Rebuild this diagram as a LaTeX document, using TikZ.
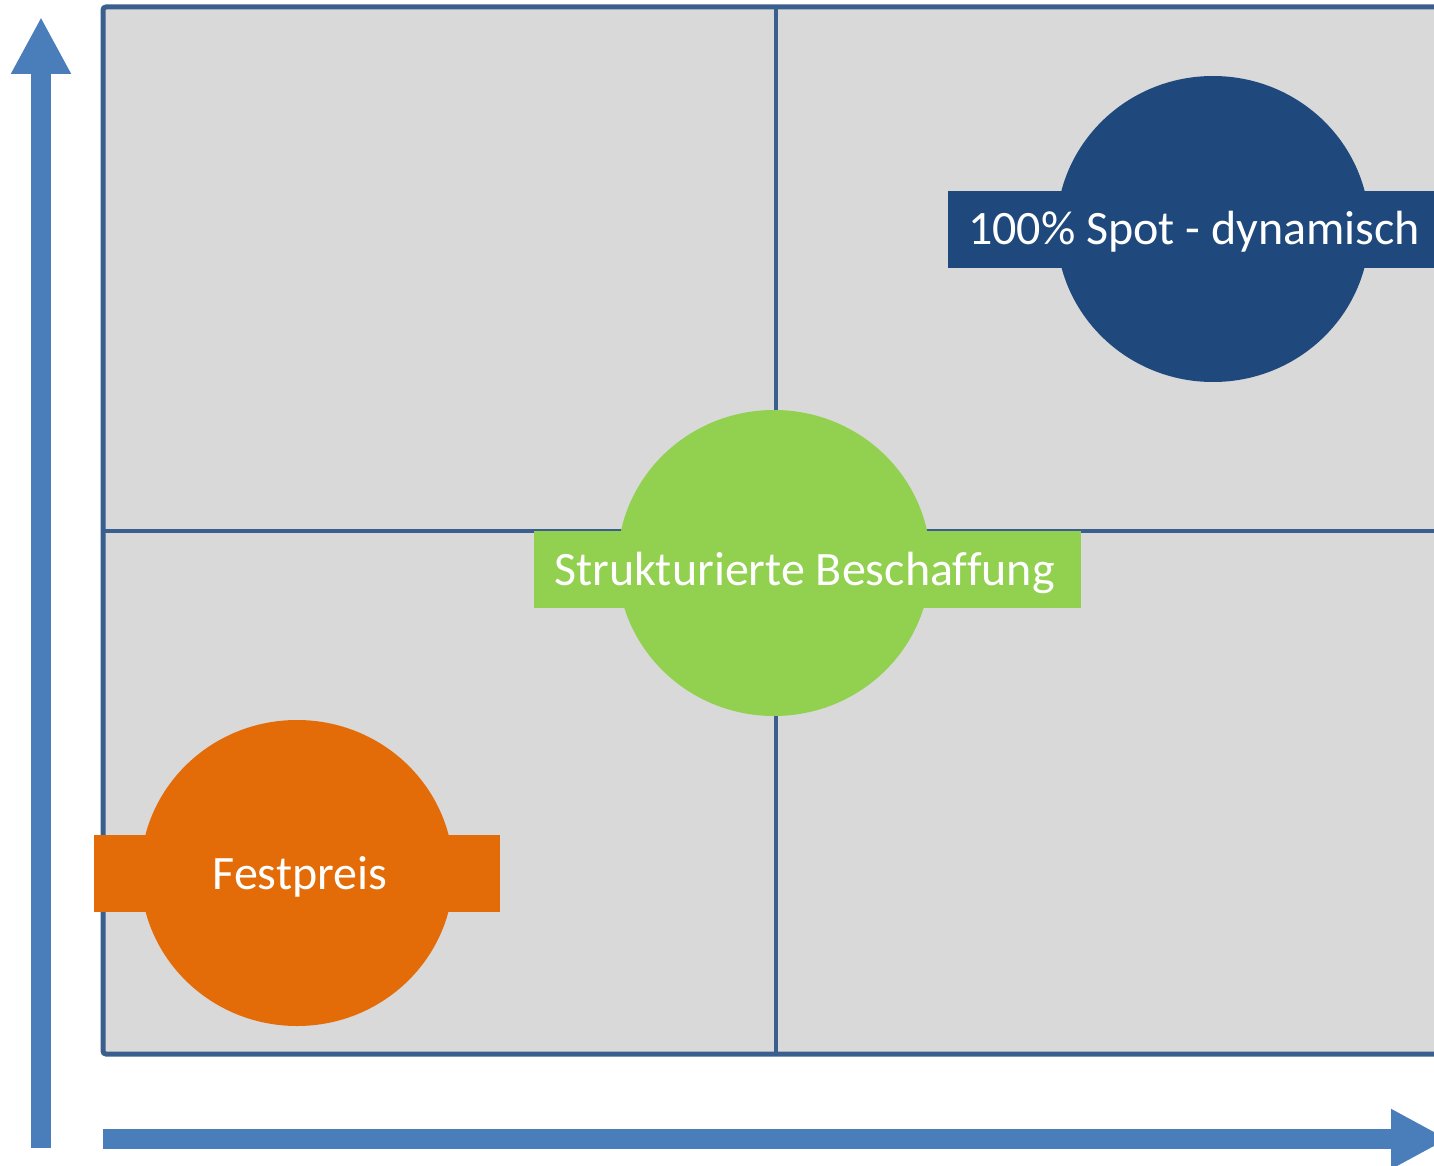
\documentclass[tikz,border=0pt]{standalone}
\usepackage{fontspec}
\setmainfont{Carlito}[Ligatures=NoCommon]
\usetikzlibrary{arrows.meta,shapes.geometric}
\definecolor{axis-blue}{HTML}{4A7EBB}
\definecolor{grid-blue}{HTML}{3A5F8E}
\definecolor{grid-fill}{HTML}{D9D9D9}
\definecolor{spot-navy}{HTML}{1F497D}
\definecolor{struct-green}{HTML}{92D050}
\definecolor{fix-orange}{HTML}{E36C09}
\tikzset{
    axis-arrow/.style = {draw=axis-blue, line width=20pt, -{Triangle[length=57pt, width=56pt]}},
    quadrant-box/.style = {draw=grid-blue, fill=grid-fill, line width=5pt, rounded corners=3pt},
    quadrant-line/.style = {draw=grid-blue, line width=4pt},
    bubble/.style = {ellipse, minimum width=313pt, minimum height=306pt, inner sep=0pt},
    bubble-label/.style = {rectangle, inner xsep=0pt, inner ysep=23pt, text height=31pt, text depth=0pt, text=white, font=\fontsize{48}{58}\selectfont},
}

\begin{document}
\begin{tikzpicture}[x=1pt, y=-1pt]
\useasboundingbox (0,0) rectangle (1434,1166);
\clip (0,0) rectangle (1434,1166);

% quadrants
\draw[quadrant-box] (103,7) rectangle (1460,1054);
\coordinate (v-top) at (776,7);
\coordinate (v-bottom) at (776,1054);
\coordinate (h-left) at (103,531);
\coordinate (h-right) at (1460,531);
\draw[quadrant-line] (v-top) -- (v-bottom);
\draw[quadrant-line] (h-left) -- (h-right);

% axes
\coordinate (y-start) at (41,1148);
\coordinate (y-end) at (41,17);
\coordinate (x-start) at (103,1139);
\coordinate (x-end) at (1448,1139);
\draw[axis-arrow] (y-start) -- (y-end);
\draw[axis-arrow] (x-start) -- (x-end);

% strategies
\node[bubble, fill=spot-navy] (spot) at (1213,229) {};
\node[bubble-label, fill=spot-navy, minimum width=492pt] (spot-label) at (1194,229.5) {100\% Spot - dynamisch};

\node[bubble, fill=struct-green] (struct) at (774,563) {};
\node[bubble-label, fill=struct-green, minimum width=547pt] (struct-label) at (807.5,569.5) {\hspace*{-6pt}Strukturierte Beschaffung};

\node[bubble, fill=fix-orange] (fix) at (297,873) {};
\node[bubble-label, fill=fix-orange, minimum width=406pt] (fix-label) at (297,873.5) {\hspace*{6pt}Festpreis};
\end{tikzpicture}
\end{document}
